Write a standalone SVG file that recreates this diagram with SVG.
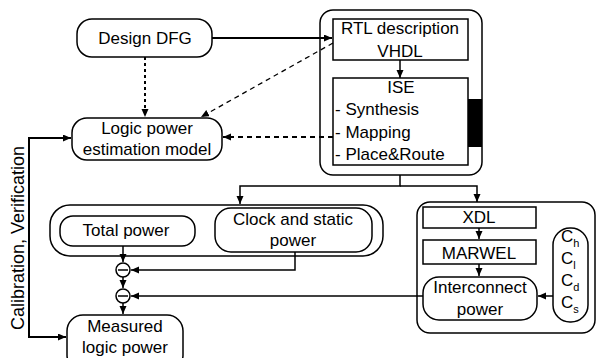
<svg xmlns="http://www.w3.org/2000/svg" width="597" height="358" viewBox="0 0 597 358">
<defs>
<marker id="ah" markerUnits="userSpaceOnUse" markerWidth="9" markerHeight="8" refX="8" refY="3.5" orient="auto"><path d="M0,0 L8,3.5 L0,7 z" fill="#000"/></marker>
<style>
.t{font-family:"Liberation Sans",Arial,sans-serif;font-size:17px;fill:#000}
.m{text-anchor:middle}
.b{fill:#fff;stroke:#000;stroke-width:1.5}
.c{fill:none;stroke:#000;stroke-width:1.5}
.k{fill:none;stroke:#000;stroke-width:2}
.d{fill:none;stroke:#000;stroke-width:2;stroke-dasharray:5,4}
.dt{fill:none;stroke:#000;stroke-width:2;stroke-dasharray:3,3}
.dg{fill:none;stroke:#000;stroke-width:1.3;stroke-dasharray:5,4}
</style>
</defs>
<rect width="597" height="358" fill="#fff"/>

<g id="rtl-group">
<rect class="b" x="320" y="10" width="162" height="165" rx="13"/>
<rect x="467" y="99" width="15" height="48" fill="#000"/>
</g>
<g id="rtl">
<rect class="b" x="333" y="19" width="135" height="41"/>
<text class="t m" x="400" y="34">RTL description</text>
<text class="t m" x="400" y="57">VHDL</text>
</g>
<g id="ise">
<rect class="b" x="333" y="78" width="135" height="87"/>
<text class="t m" x="401" y="93">ISE</text>
<text class="t" x="335" y="115">- Synthesis</text>
<text class="t" x="335" y="138">- Mapping</text>
<text class="t" x="335" y="160">- Place&amp;Route</text>
</g>

<g id="design-dfg">
<rect class="b" x="77" y="19" width="135" height="38" rx="15"/>
<text class="t m" x="145" y="44">Design DFG</text>
</g>
<g id="logic-model">
<rect class="b" x="72" y="118" width="150" height="42" rx="15"/>
<text class="t m" x="147" y="134">Logic power</text>
<text class="t m" x="147" y="155">estimation model</text>
</g>

<g id="left-group">
<rect class="b" x="50" y="205" width="333" height="51" rx="20"/>
</g>
<g id="total-power">
<rect class="b" x="60" y="216" width="135" height="30" rx="13"/>
<text class="t m" x="126" y="236">Total power</text>
</g>
<g id="clock-power">
<rect class="b" x="215" y="208" width="157" height="44" rx="16"/>
<text class="t m" x="293" y="225">Clock and static</text>
<text class="t m" x="293" y="246">power</text>
</g>
<g id="sub1">
<circle class="b" cx="123" cy="270" r="7"/>
<line class="c" x1="118" y1="270" x2="128" y2="270"/>
</g>
<g id="sub2">
<circle class="b" cx="123" cy="296" r="7"/>
<line class="c" x1="118" y1="296" x2="128" y2="296"/>
</g>
<g id="measured">
<rect class="b" x="67" y="315" width="116" height="56" rx="16"/>
<text class="t m" x="125" y="332">Measured</text>
<text class="t m" x="125" y="353">logic power</text>
</g>

<g id="right-group">
<rect class="b" x="417" y="202" width="178" height="131" rx="13"/>
</g>
<g id="xdl">
<rect class="b" x="423" y="207" width="113" height="21"/>
<text class="t m" x="479" y="223">XDL</text>
</g>
<g id="marwel">
<rect class="b" x="423" y="240" width="113" height="24"/>
<text class="t m" x="479" y="259">MARWEL</text>
</g>
<g id="interconnect">
<rect class="b" x="423" y="277" width="114" height="43" rx="16"/>
<text class="t m" x="480" y="293">Interconnect</text>
<text class="t m" x="480" y="315">power</text>
</g>
<g id="caps">
<rect class="b" x="553" y="228" width="35" height="94" rx="17"/>
<text class="t" x="561" y="242">C<tspan font-size="11" dy="5">h</tspan></text>
<text class="t" x="561" y="264">C<tspan font-size="11" dy="5">l</tspan></text>
<text class="t" x="561" y="286">C<tspan font-size="11" dy="5">d</tspan></text>
<text class="t" x="561" y="308">C<tspan font-size="11" dy="5">s</tspan></text>
</g>

<text class="t m" font-size="18" style="font-size:18px" transform="translate(24,238) rotate(-90)">Calibration, Verification</text>

<g id="connectors">
<path class="k" d="M212,38 H332" marker-end="url(#ah)"/>
<path class="c" d="M400,60 V78" marker-end="url(#ah)"/>
<path class="dt" d="M145,57 V117" marker-end="url(#ah)"/>
<path class="dg" d="M333,43 L201,117" marker-end="url(#ah)"/>
<path class="d" d="M333,137 H223" marker-end="url(#ah)"/>
<path class="k" d="M29,238 V138 H71" marker-end="url(#ah)"/>
<path class="k" d="M29,238 V337 H66" marker-end="url(#ah)"/>
<path class="c" d="M400,175 V186 H240 V204" marker-end="url(#ah)"/>
<path class="c" d="M400,186 H477 V202" marker-end="url(#ah)"/>
<path class="c" d="M123,246 V262" marker-end="url(#ah)"/>
<path class="c" d="M295,252 V270 H131" marker-end="url(#ah)"/>
<path class="c" d="M123,277 V288" marker-end="url(#ah)"/>
<path class="c" d="M423,296 H131" marker-end="url(#ah)"/>
<path class="c" d="M123,303 V314" marker-end="url(#ah)"/>
<path class="c" d="M479,228 V239" marker-end="url(#ah)"/>
<path class="c" d="M479,264 V276" marker-end="url(#ah)"/>
<path class="c" d="M553,296 H538" marker-end="url(#ah)"/>
</g>
</svg>
